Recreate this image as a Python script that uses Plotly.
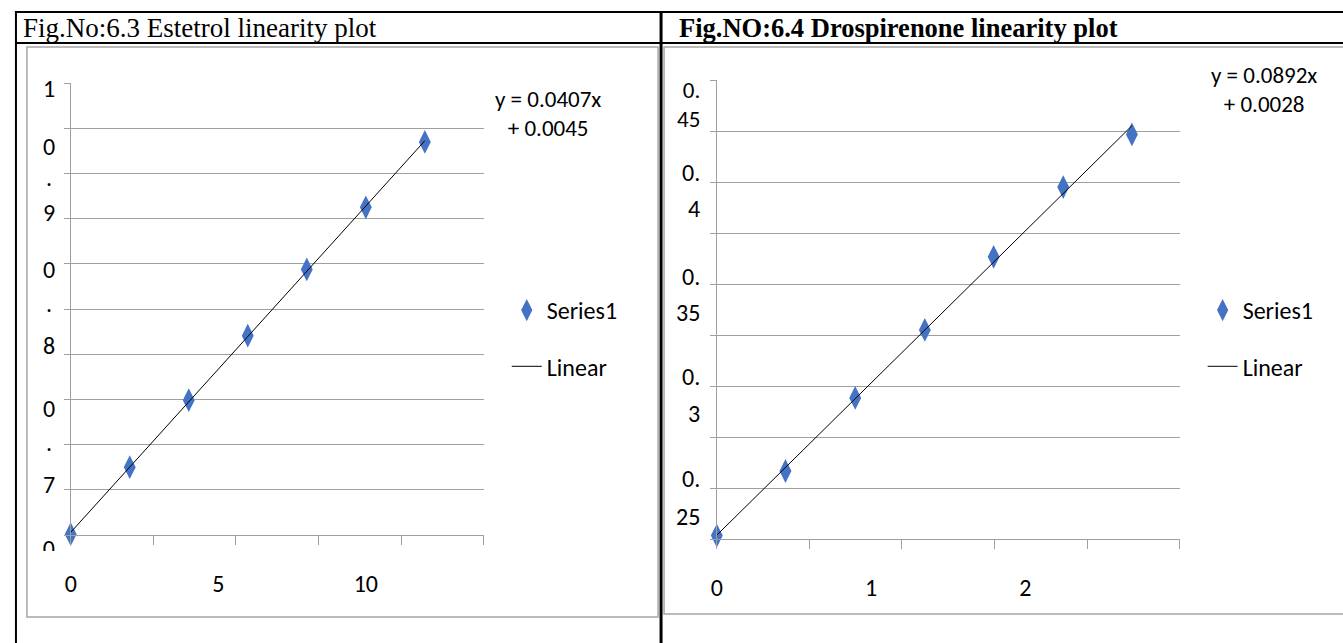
import numpy as np
import plotly.graph_objects as go

W, H = 1343, 643

# ---------------- data ----------------
est_x = [0, 2, 4, 6, 8, 10, 12]
est_y = [0.001, 0.084, 0.167, 0.247, 0.329, 0.406, 0.487]
dro_x = [0, 0.445, 0.897, 1.348, 1.794, 2.245, 2.690]
dro_y = [0.002, 0.040, 0.083, 0.123, 0.166, 0.207, 0.238]

est_title = "Fig.No:6.3 Estetrol linearity plot"
dro_title = "<b>Fig.NO:6.4 Drospirenone linearity plot</b>"
est_eq = ["y = 0.0407x", "+ 0.0045"]
dro_eq = ["y = 0.0892x", "+ 0.0028"]
est_xtick_vals = [0, 5, 10]
est_xtick_text = ["0", "5", "10"]
dro_xtick_vals = [0, 1, 2]
dro_xtick_text = ["0", "1", "2"]
est_ylabel_text = ["1", "0", ".", "9", "0", ".", "8", "0", ".", "7"]
est_ylabel_cut = "0"
dro_ylabel_text = ["0.", "45", "0.", "4", "0.", "35", "0.", "3", "0.", "25"]
series_name = "Series1"
trend_name = "Linear"

# ---------------- styling / layout constants ----------------
SANS = "Carlito, Calibri, Lato, sans-serif"
SERIF = "Liberation Serif, Times New Roman, serif"
BLUE = "#4472C4"
GRID = "#a0a0a0"
FS = 24

def px(x):
    return x / W

def py(y):
    return 1 - y / H

# trend lines (least squares from the data)
def trend(xs, ys):
    k, b = np.polyfit(xs, ys, 1)
    xx = np.array([min(xs), max(xs)])
    return xx, k * xx + b

est_tx, est_ty = trend(est_x, est_y)
dro_tx, dro_ty = trend(dro_x, dro_y)

fig = go.Figure()

fig.add_trace(go.Scatter(x=est_x, y=est_y, mode="markers", name=series_name,
                         marker=dict(symbol="diamond-tall", size=17, color=BLUE),
                         cliponaxis=False, xaxis="x", yaxis="y",
                         legend="legend", legendgroup="a"))
fig.add_trace(go.Scatter(x=est_tx, y=est_ty, mode="lines", name=trend_name,
                         line=dict(color="black", width=1),
                         cliponaxis=False, xaxis="x", yaxis="y",
                         legend="legend", legendgroup="b"))
fig.add_trace(go.Scatter(x=dro_x, y=dro_y, mode="markers", name=series_name,
                         marker=dict(symbol="diamond-tall", size=17, color=BLUE),
                         cliponaxis=False, xaxis="x2", yaxis="y2",
                         legend="legend2", legendgroup="c"))
fig.add_trace(go.Scatter(x=dro_tx, y=dro_ty, mode="lines", name=trend_name,
                         line=dict(color="black", width=1),
                         cliponaxis=False, xaxis="x2", yaxis="y2",
                         legend="legend2", legendgroup="d"))

def xaxis_cfg(dom, rng, tv, tt, minor_dt, anchor):
    return dict(domain=dom, range=rng, anchor=anchor, showgrid=False, zeroline=False,
                showline=True, linecolor=GRID, linewidth=1,
                tickmode="array", tickvals=tv, ticktext=tt, ticks="",
                ticklabelstandoff=27,
                tickfont=dict(family=SANS, size=FS, color="black"),
                minor=dict(ticks="outside", ticklen=9, tickcolor=GRID, tickwidth=1,
                           dtick=minor_dt, tick0=0, showgrid=False))

def yaxis_cfg(dom, rng, dt, anchor):
    return dict(domain=dom, range=rng, anchor=anchor, dtick=dt, tick0=0,
                showgrid=True, gridcolor=GRID, gridwidth=1, zeroline=False,
                showline=True, linecolor=GRID, linewidth=1,
                ticks="outside", ticklen=6, tickcolor=GRID, showticklabels=False)

fig.update_layout(
    width=W, height=H, margin=dict(l=0, r=0, t=0, b=0),
    paper_bgcolor="white", plot_bgcolor="white",
    xaxis=xaxis_cfg([px(65), px(480)], [0, 14], est_xtick_vals, est_xtick_text, 2.8, "y"),
    yaxis=yaxis_cfg([py(535), py(83)], [0, 0.56], 0.056, "x"),
    xaxis2=xaxis_cfg([px(714), px(1179)], [0, 3], dro_xtick_vals, dro_xtick_text, 0.6, "y2"),
    yaxis2=yaxis_cfg([py(539), py(80)], [0, 0.27], 0.03, "x2"),
    legend=dict(x=px(503), xanchor="left", y=py(288), yanchor="top",
                font=dict(family=SANS, size=FS, color="black"),
                bgcolor="rgba(0,0,0,0)", tracegroupgap=22, itemsizing="trace"),
    legend2=dict(x=px(1202), xanchor="left", y=py(288), yanchor="top",
                 font=dict(family=SANS, size=FS, color="black"),
                 bgcolor="rgba(0,0,0,0)", tracegroupgap=22, itemsizing="trace"),
    showlegend=True,
)

shapes = []
# table borders
for (x0, y0, x1, y1, w) in [(9, 12, W + 5, 12, 2), (9, 43, W + 5, 43, 2),
                            (10, 11, 10, H + 5, 2), (658, 11, 658, H + 5, 3)]:
    shapes.append(dict(type="line", xref="paper", yref="paper",
                       x0=px(x0), y0=py(y0), x1=px(x1), y1=py(y1),
                       line=dict(color="black", width=w)))
# chart frames
for (x0, y0, x1, y1) in [(21, 47, 655, 617), (661, 47, W + 10, 614)]:
    shapes.append(dict(type="rect", xref="paper", yref="paper",
                       x0=px(x0), y0=py(y0), x1=px(x1), y1=py(y1),
                       line=dict(color="#a6a6a6", width=1.5), fillcolor="rgba(0,0,0,0)"))
# partially hidden last y label of left chart
shapes.append(dict(type="rect", xref="paper", yref="paper",
                   x0=px(30), x1=px(56), y0=py(536), y1=py(558),
                   line=dict(width=0), fillcolor="rgba(0,0,0,0)",
                   label=dict(text=est_ylabel_cut, textposition="middle center",
                              font=dict(family=SANS, size=FS, color="black"))))
shapes.append(dict(type="rect", xref="paper", yref="paper",
                   x0=px(28), x1=px(60), y0=py(551), y1=py(568),
                   line=dict(width=0), fillcolor="white"))

annotations = []
def ann(text, x, y, xanchor="center", family=SANS, size=FS, align="center"):
    annotations.append(dict(text=text, xref="paper", yref="paper", x=px(x), y=py(y),
                            xanchor=xanchor, yanchor="middle", showarrow=False, align=align,
                            font=dict(family=family, size=size, color="black")))

def two_lines(lines, size=23):
    # tight line spacing: outer font sets the spacing, inner span sets glyph size
    return "<br>".join(f"<span style='font-size:{size}px'>{t}</span>" for t in lines)

ann(est_title, 15, 28, "left", SERIF, 27)
ann(dro_title, 674, 28, "left", SERIF, 26.5)
ann(two_lines(est_eq), 544, 114, "center", SANS, 22.5)
ann(two_lines(dro_eq), 1264, 90, "center", SANS, 22.5)

est_ylabel_pos = [88, 147, 177, 212, 269, 304, 345, 408, 442, 484]
for t, yy in zip(est_ylabel_text, est_ylabel_pos):
    ann(t, 43, yy, "center")

# right chart: first pair is set tighter than the rest
ann(two_lines(dro_ylabel_text[0:2]), 699, 104, "right", SANS, 22.5, "right")
dro_ylabel_pos = [173, 209, 276, 312, 376, 413, 478, 516]
for t, yy in zip(dro_ylabel_text[2:], dro_ylabel_pos):
    ann(t, 699, yy, "right")

fig.update_layout(shapes=shapes, annotations=annotations)

fig.write_html("out.html", config={"displayModeBar": False},
               post_script="document.body.style.margin='0';document.body.style.overflow='hidden';")
